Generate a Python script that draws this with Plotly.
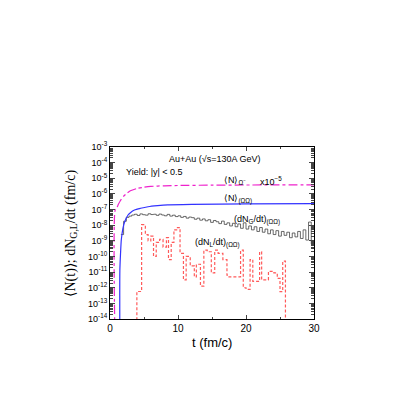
import plotly.graph_objects as go

# ---------------- data ----------------
FLOOR = 1e-16  # below the axis range: histogram/curve start from the bottom

# <N>_Omega- x 1e-5 (magenta dash-dot)
pink_t = [0.75, 0.75, 1.0, 1.25, 1.5, 2.0, 2.5, 3.0, 4.0, 5.0, 6.0, 8.0, 10.0, 15.0, 20.0, 30.0]
pink_log = [-16, -7.05, -6.9, -6.65, -6.45, -6.15, -5.95, -5.8, -5.65, -5.57, -5.52, -5.48, -5.46, -5.44, -5.43, -5.42]

# <N>_(Omega Omega) (blue solid)
blue_t = [1.45, 1.45, 1.55, 1.66, 1.9, 2.16, 2.65, 3.0, 3.6, 4.5, 5.6, 7.0, 8.5, 12.0, 20.0, 30.0]
blue_log = [-16, -10.9, -9.8, -8.95, -8.2, -7.78, -7.35, -7.2, -7.03, -6.92, -6.82, -6.75, -6.7, -6.67, -6.64, -6.62]

# (dN_G/dt)_(Omega Omega) histogram, bins of 0.4 fm/c starting at 1.6
gray_t0 = 1.6
gray_w = 0.4
gray_log = [
    -8.6, -7.75, -7.5, -7.42, -7.35, -7.3, -7.38, -7.28, -7.33, -7.36,
    -7.27, -7.32, -7.3, -7.37, -7.29, -7.35, -7.4, -7.31, -7.42, -7.36,
    -7.45, -7.4, -7.5, -7.44, -7.55, -7.48, -7.52, -7.62, -7.55, -7.68,
    -7.6, -7.72, -7.65, -7.82, -7.7, -7.78, -7.9, -7.74, -7.95, -7.85,
    -8.05, -7.88, -8.1, -7.92, -8.2, -7.85, -8.25, -8.05, -8.3, -8.1,
    -8.4, -8.15, -8.45, -8.25, -8.55, -8.3, -8.6, -8.35, -8.7, -8.4,
    -8.65, -8.45, -8.8, -8.5, -8.75, -8.4, -8.85, -8.3, -8.95, -7.8,
    -9.2,
]

# (dN_L/dt)_(Omega Omega) histogram (red dashed), bin edges and log values
red_edges = [3.95, 4.65, 5.2, 5.6, 6.0, 6.4, 6.8, 7.3, 7.8, 8.3, 8.6, 9.0, 9.4, 9.8, 10.3,
             10.8, 11.2, 11.8, 12.4, 12.7, 13.3, 13.8, 14.3, 14.9, 15.4, 15.9, 16.6, 17.2,
             17.5, 18.0, 19.2, 19.6, 20.0, 20.6, 21.0, 21.5, 22.0, 22.3, 23.3, 24.1, 24.6,
             25.0, 25.4, 25.8]
red_log = [-12.24, -7.97, -8.6, -9.0, -8.7, -10.0, -9.1, -8.9, -9.4, -8.8, -10.2, -9.1,
           -8.3, -8.15, -9.8, -11.5, -10.0, -10.6, -11.3, -10.5, -11.9, -9.6, -9.7, -11.05,
           -9.6, -9.8, -10.2, -11.2, -11.3, -11.3, -9.6, -12.0, -12.1, -10.2, -11.6, -11.6,
           -9.7, -11.5, -10.95, -11.05, -11.4, -12.25, -10.3]

y_exponents = list(range(-14, -2))
x_ticks = [0, 10, 20, 30]

# ---------------- build traces ----------------
def p10(v):
    return [10.0 ** e for e in v]

gray_x = [gray_t0 + i * gray_w for i in range(len(gray_log) + 1)]
gray_y = p10(gray_log) + [10.0 ** gray_log[-1]]

red_x = [red_edges[0]] + red_edges + [red_edges[-1]]
red_y = [FLOOR] + p10(red_log) + [10.0 ** red_log[-1], FLOOR]

fig = go.Figure()
fig.add_trace(go.Scatter(x=red_x, y=red_y, mode="lines", line_shape="hv",
                         line=dict(color="#ff5a5a", width=1.2, dash="3px,2px")))
fig.add_trace(go.Scatter(x=gray_x, y=gray_y, mode="lines", line_shape="hv",
                         line=dict(color="#444444", width=0.8)))
fig.add_trace(go.Scatter(x=blue_t, y=p10(blue_log), mode="lines", line_shape="spline",
                         line=dict(color="#3333ff", width=1.2, smoothing=0.6)))
fig.add_trace(go.Scatter(x=pink_t, y=p10(pink_log), mode="lines", line_shape="spline",
                         line=dict(color="#ee22cc", width=1.2, dash="dashdot", smoothing=0.6)))

axis_common = dict(showline=True, linecolor="black", linewidth=1, mirror="allticks",
                   ticks="inside", showgrid=False, zeroline=False)

fig.update_xaxes(range=[0, 30], tickvals=x_ticks, ticklen=4,
                 tickfont=dict(family="Liberation Sans", size=10, color="black"),
                 minor=dict(ticks="inside", ticklen=2, dtick=5, showgrid=False),
                 **axis_common)
fig.update_yaxes(type="log", range=[-14, -3],
                 tickvals=[10.0 ** e for e in y_exponents + [-3]],
                 ticktext=[f"10<sup>{e}</sup>" for e in y_exponents + [-3]],
                 ticklen=5,
                 tickfont=dict(family="Liberation Sans", size=9, color="black"),
                 minor=dict(ticks="inside", ticklen=3, dtick="D1", showgrid=False),
                 **axis_common)

ann_font = dict(family="Liberation Sans", size=9, color="black")
annotations = [
    dict(text="Au+Au (√s=130A GeV)", x=0.515, y=0.93),
    dict(text="Yield: |y| < 0.5", x=0.07, y=0.855, xanchor="left"),
    dict(text="⟨N⟩<sub>Ω<sup>−</sup></sub>", x=0.55, y=0.805, xanchor="left"),
    dict(text="x10<sup>−5</sup>", x=0.725, y=0.8, xanchor="left"),
    dict(text="⟨N⟩<sub>(ΩΩ)</sub>", x=0.55, y=0.695, xanchor="left"),
    dict(text="(dN<sub>G</sub>/dt)<sub>(ΩΩ)</sub>", x=0.6, y=0.575, xanchor="left"),
    dict(text="(dN<sub>L</sub>/dt)<sub>(ΩΩ)</sub>", x=0.405, y=0.44, xanchor="left"),
]
for a in annotations:
    a.setdefault("xanchor", "center")
    fig.add_annotation(xref="paper", yref="paper", showarrow=False, yanchor="middle",
                       font=ann_font, **a)

fig.add_annotation(xref="paper", yref="paper", x=-0.245, y=0.5, textangle=-90,
                   showarrow=False, text="⟨N(t)⟩; dN<sub>G,L</sub>/dt (fm/c)",
                   font=dict(family="Liberation Serif", size=14, color="black"))
fig.add_annotation(xref="paper", yref="paper", x=0.5, y=-0.135, showarrow=False,
                   text="t (fm/c)", yanchor="middle",
                   font=dict(family="Liberation Sans", size=13, color="black"))

# page body adds an 8px offset, so margins are reduced accordingly
fig.update_layout(width=402, height=402, showlegend=False,
                  margin=dict(l=102, r=96, t=139, b=91, pad=0),
                  plot_bgcolor="white", paper_bgcolor="white")

fig.write_html("out.html")
